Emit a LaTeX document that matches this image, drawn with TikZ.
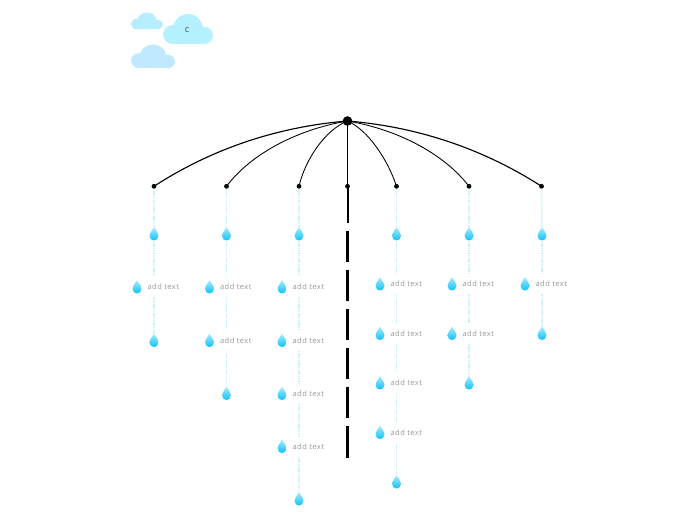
\documentclass[tikz,border=0pt]{standalone}
\usepackage{fontspec}
\setmainfont{Open Sans}
\newfontfamily\labelfont[LetterSpace=6]{Open Sans}
\usetikzlibrary{calc}
\definecolor{dotline}{HTML}{C8F3F9}
\definecolor{dropa}{HTML}{A5ECFF}
\definecolor{dropb}{HTML}{0FC0F8}
\definecolor{labelgray}{HTML}{989898}
\definecolor{cloudone}{HTML}{B4EEFF}
\definecolor{cloudtwo}{HTML}{B6F1FF}
\definecolor{cloudthree}{HTML}{C0E8FF}
\tikzset{
  px/.style={x=0.75pt,y=-0.75pt},
  hub/.style={circle,fill=black,inner sep=0pt,minimum size=7.2pt},
  knob/.style={circle,fill=black,inner sep=0pt,minimum size=3.6pt},
  dropnode/.style={inner sep=0pt,minimum width=6pt,minimum height=10pt},
  addtext/.style={font=\labelfont\fontsize{5.65pt}{7pt}\selectfont,text=labelgray,anchor=west,inner sep=0pt,minimum height=15pt},
  rib/.style={black,line width=0.65pt},
  outerrib/.style={black,line width=0.85pt},
  stringline/.style={dotline,line width=1.1pt,dash pattern=on 1.1pt off 0.6pt},
  shaft/.style={black,line width=2.1pt},
  topshaft/.style={black,line width=1.5pt},
}
\newcommand{\mydrop}[3]{%
  \path[top color=dropa,bottom color=dropb,shift={(#2,#3)}]
    (0,-6.8) .. controls (1.4,-3.8) and (4.4,-1.4) .. (4.4,2)
    .. controls (4.4,4.8) and (2.3,6.5) .. (0,6.5)
    .. controls (-2.3,6.5) and (-4.4,4.8) .. (-4.4,2)
    .. controls (-4.4,-1.4) and (-1.4,-3.8) .. (0,-6.8) -- cycle;
  \node[dropnode] (#1) at (#2,#3) {};}
\newcommand{\mycloud}[5]{%
  \begin{scope}[shift={(#1,#2)},xscale=#3,yscale=#4]
    \fill[#5] (25,15) circle[radius=15];
    \fill[#5] (9.5,20.5) circle[radius=9.5];
    \fill[#5] (41.5,21.5) circle[radius=8.5];
    \fill[#5] (9.5,18) rectangle (41.5,30);
  \end{scope}}
\newcommand{\myitem}[3]{%
  \mydrop{#1}{#2}{#3}
  \node[addtext] (#1t) at ({#2+10.3},#3) {add text};}
\begin{document}
\begin{tikzpicture}[px]
\useasboundingbox (0,0) rectangle (696,520);
% clouds
\mycloud{131}{12.5}{0.64}{0.56}{cloudone}
\mycloud{163}{14}{1}{1}{cloudtwo}
\mycloud{131}{44.5}{0.88}{0.79}{cloudthree}
\node[font=\fontsize{7pt}{8pt}\selectfont,text=black!70,inner sep=0pt] (cloudlabel) at (187,30.5) {c};
% hub and knobs
\node[hub] (hub) at (347.5,121) {};
\node[knob] (k1) at (154,186.3) {};
\node[knob] (k2) at (226.5,186.3) {};
\node[knob] (k3) at (299,186.3) {};
\node[knob] (k4) at (347.5,186.3) {};
\node[knob] (k5) at (396.5,186.3) {};
\node[knob] (k6) at (469,186.3) {};
\node[knob] (k7) at (541.5,186.3) {};
% ribs
\draw[outerrib] (hub.center) .. controls (275,127) and (210,150) .. (k1.center);
\draw[rib] (hub.center) .. controls (295,130) and (250,155) .. (k2.center);
\draw[rib] (hub.center) .. controls (325,130) and (305,160) .. (k3.center);
\draw[rib] (hub.center) -- (k4.center);
\draw[rib] (hub.center) .. controls (368,130) and (388,160) .. (k5.center);
\draw[rib] (hub.center) .. controls (400,130) and (445,155) .. (k6.center);
\draw[outerrib] (hub.center) .. controls (420,127) and (485,150) .. (k7.center);
% shaft
\coordinate (s1a) at (347.5,223); \coordinate (s2a) at (347.5,231); \coordinate (s2b) at (347.5,262);
\coordinate (s3a) at (347.5,270); \coordinate (s3b) at (347.5,301);
\coordinate (s4a) at (347.5,309); \coordinate (s4b) at (347.5,340);
\coordinate (s5a) at (347.5,348); \coordinate (s5b) at (347.5,379);
\coordinate (s6a) at (347.5,387); \coordinate (s6b) at (347.5,418);
\coordinate (s7a) at (347.5,426); \coordinate (s7b) at (347.5,458);
\draw[topshaft] (k4.center) -- (s1a);
\foreach \a/\b in {s2a/s2b,s3a/s3b,s4a/s4b,s5a/s5b,s6a/s6b,s7a/s7b} \draw[shaft] (\a) -- (\b);
% column 1
\mydrop{a1}{154}{234} \myitem{a2}{137}{287} \mydrop{a3}{154}{340.5}
\draw[stringline] (k1) -- (a1);
\draw[stringline] (a1) -- (a1 |- a2t.north);
\draw[stringline] (a1 |- a2t.south) -- (a3);
% column 2
\mydrop{b1}{226.5}{234} \myitem{b2}{209.5}{287} \myitem{b3}{209.5}{340.5} \mydrop{b4}{226.5}{393.5}
\draw[stringline] (k2) -- (b1);
\draw[stringline] (b1) -- (b1 |- b2t.north);
\draw[stringline] (b1 |- b2t.south) -- (b1 |- b3t.north);
\draw[stringline] (b1 |- b3t.south) -- (b4);
% column 3
\mydrop{c1}{299}{234} \myitem{c2}{282}{287} \myitem{c3}{282}{340.5} \myitem{c4}{282}{393.5} \myitem{c5}{282}{446.5} \mydrop{c6}{299}{499}
\draw[stringline] (k3) -- (c1);
\draw[stringline] (c1) -- (c1 |- c2t.north);
\draw[stringline] (c1 |- c2t.south) -- (c1 |- c3t.north);
\draw[stringline] (c1 |- c3t.south) -- (c1 |- c4t.north);
\draw[stringline] (c1 |- c4t.south) -- (c1 |- c5t.north);
\draw[stringline] (c1 |- c5t.south) -- (c6);
% column 5
\mydrop{d1}{396.5}{234} \myitem{d2}{380}{284} \myitem{d3}{380}{333.5} \myitem{d4}{380}{383} \myitem{d5}{380}{432.5} \mydrop{d6}{396.5}{482}
\draw[stringline] (k5) -- (d1);
\draw[stringline] (d1) -- (d1 |- d2t.north);
\draw[stringline] (d1 |- d2t.south) -- (d1 |- d3t.north);
\draw[stringline] (d1 |- d3t.south) -- (d1 |- d4t.north);
\draw[stringline] (d1 |- d4t.south) -- (d1 |- d5t.north);
\draw[stringline] (d1 |- d5t.south) -- (d6);
% column 6
\mydrop{e1}{469}{234} \myitem{e2}{452}{284} \myitem{e3}{452}{333.5} \mydrop{e4}{469}{383}
\draw[stringline] (k6) -- (e1);
\draw[stringline] (e1) -- (e1 |- e2t.north);
\draw[stringline] (e1 |- e2t.south) -- (e1 |- e3t.north);
\draw[stringline] (e1 |- e3t.south) -- (e4);
% column 7
\mydrop{f1}{542}{234} \myitem{f2}{525}{284} \mydrop{f3}{542}{333.5}
\draw[stringline] (k7) -- (f1);
\draw[stringline] (f1) -- (f1 |- f2t.north);
\draw[stringline] (f1 |- f2t.south) -- (f3);
\end{tikzpicture}
\end{document}
